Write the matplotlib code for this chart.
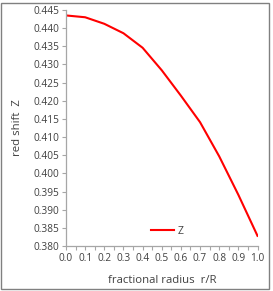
import matplotlib
matplotlib.use("Agg")
import matplotlib.pyplot as plt
from matplotlib.patches import Rectangle
from matplotlib.ticker import MultipleLocator

r = [0.0, 0.1, 0.2, 0.3, 0.4, 0.5, 0.6, 0.7, 0.8, 0.9, 1.0]
z = [0.4435, 0.4430, 0.4412, 0.4386, 0.4346, 0.4284, 0.4214, 0.4141, 0.4047, 0.3941, 0.3828]
yticks = [0.380, 0.385, 0.390, 0.395, 0.400, 0.405, 0.410, 0.415, 0.420, 0.425, 0.430, 0.435, 0.440, 0.445]
xticks = [0.0, 0.1, 0.2, 0.3, 0.4, 0.5, 0.6, 0.7, 0.8, 0.9, 1.0]

plt.rcParams['font.family'] = ['Open Sans', 'DejaVu Sans']
W, H = 273, 291
fig = plt.figure(figsize=(W / 100, H / 100), dpi=100)
ax = fig.add_axes([66 / W, 1 - 246 / H, (257.5 - 66) / W, (246 - 10) / H])

ax.plot(r, z, color='#ff0000', lw=1.5, label='Z')
ax.set_xlim(0.0, 1.0)
ax.set_ylim(0.380, 0.445)
ax.set_xticks(xticks)
ax.set_xticklabels([f"{v:.1f}" for v in xticks])
ax.xaxis.set_minor_locator(MultipleLocator(0.05))
ax.set_yticks(yticks)
ax.set_yticklabels([f"{v:.3f}" for v in yticks])

for s in ['top', 'right']:
    ax.spines[s].set_visible(False)
for s in ['left', 'bottom']:
    ax.spines[s].set_color('#a6a6a6')
    ax.spines[s].set_linewidth(0.9)
ax.tick_params(axis='both', which='both', colors='#a6a6a6', labelcolor='#404040',
               labelsize=7.3, length=3, width=0.8, direction='out', pad=2)

ax.set_xlabel('fractional radius  r/R', fontsize=8.2, color='#404040', labelpad=8)
ax.set_ylabel('red shift  Z', fontsize=8.2, color='#404040', labelpad=7)

ax.legend(loc='lower center', bbox_to_anchor=(0.53, 0.0), frameon=False, fontsize=7.5,
          handlelength=2.2, handletextpad=0.4, labelcolor='#404040')

fig.patches.append(Rectangle((1 / W, 2 / H), (269 - 1) / W, (288 - 2) / H,
                             transform=fig.transFigure, fill=False,
                             edgecolor='#808080', lw=1.0))

fig.savefig('out.png', dpi=100)
